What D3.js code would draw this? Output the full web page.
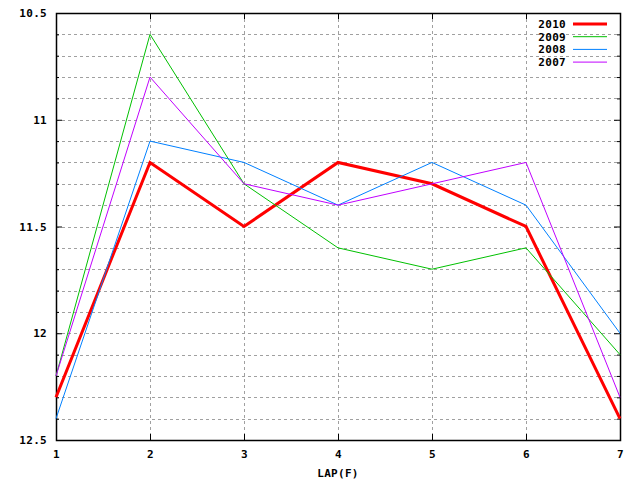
<!DOCTYPE html>
<html>
<head>
<meta charset="utf-8">
<script src="https://cdn.jsdelivr.net/npm/d3@7"></script>
<style>
  body { margin: 0; background: #fff; }
  svg text { font-family: "DejaVu Sans Mono", monospace; font-weight: bold; font-size: 11px; letter-spacing: 0.3px; fill: #000; }
</style>
</head>
<body>
<div id="chart"></div>
<script>
// Lap numbers along the x axis
const laps = [1, 2, 3, 4, 5, 6, 7];

// Lap times per year
const y2010 = [12.3, 11.2, 11.5, 11.2, 11.3, 11.5, 12.4];
const y2009 = [12.2, 10.6, 11.3, 11.6, 11.7, 11.6, 12.1];
const y2008 = [12.4, 11.1, 11.2, 11.4, 11.2, 11.4, 12.0];
const y2007 = [12.2, 10.8, 11.3, 11.4, 11.3, 11.2, 12.3];

const seriesNames = ['2010', '2009', '2008', '2007'];
const yMajorTicks = [10.5, 11, 11.5, 12, 12.5];
const yMinorTicks = [10.6, 10.7, 10.8, 10.9, 11.1, 11.2, 11.3, 11.4, 11.6, 11.7, 11.8, 11.9, 12.1, 12.2, 12.3, 12.4];

const series = [
  { name: seriesNames[0], values: y2010, color: '#ff0000', width: 3 },
  { name: seriesNames[1], values: y2009, color: '#00c000', width: 1 },
  { name: seriesNames[2], values: y2008, color: '#0080ff', width: 1 },
  { name: seriesNames[3], values: y2007, color: '#c000ff', width: 1 }
];

const W = 640, H = 480;
const margin = { top: 13, right: 20, bottom: 40, left: 56 };
const width = W - margin.left - margin.right;
const height = H - margin.top - margin.bottom;

const svg = d3.select('#chart').append('svg')
  .attr('width', W)
  .attr('height', H);

const g = svg.append('g')
  .attr('transform', `translate(${margin.left},${margin.top})`);

const x = d3.scaleLinear().domain([1, 7]).range([0, width]);
// y axis runs downward: 10.5 at the top
const y = d3.scaleLinear().domain([10.5, 12.5]).range([0, height]);

// Grid (dotted)
const gridY = yMajorTicks.concat(yMinorTicks).filter(v => v > 10.5 && v < 12.5);
g.selectAll('.gy').data(gridY).enter().append('line')
  .attr('x1', 0).attr('x2', width)
  .attr('y1', d => Math.round(y(d)) + 0.5).attr('y2', d => Math.round(y(d)) + 0.5)
  .attr('stroke', '#a0a0a0').attr('stroke-width', 1).attr('stroke-dasharray', '3,3');

g.selectAll('.gx').data(laps.slice(1, -1)).enter().append('line')
  .attr('x1', d => Math.round(x(d)) + 0.5).attr('x2', d => Math.round(x(d)) + 0.5)
  .attr('y1', 0).attr('y2', height)
  .attr('stroke', '#a0a0a0').attr('stroke-width', 1).attr('stroke-dasharray', '3,3');

// Left axis (major ticks labelled, minor ticks via second axis)
g.append('g')
  .call(d3.axisLeft(y).tickValues(yMajorTicks).tickSize(-6).tickPadding(9).tickFormat(d3.format('')))
  .call(a => a.select('.domain').remove());

g.append('g')
  .call(d3.axisLeft(y).tickValues(yMinorTicks).tickSize(-3).tickFormat(''))
  .call(a => a.select('.domain').remove());

// Right mirror ticks
g.append('g')
  .attr('transform', `translate(${width},0)`)
  .call(d3.axisRight(y).tickValues(yMajorTicks).tickSize(-6).tickFormat(''))
  .call(a => a.select('.domain').remove());
g.append('g')
  .attr('transform', `translate(${width},0)`)
  .call(d3.axisRight(y).tickValues(yMinorTicks).tickSize(-3).tickFormat(''))
  .call(a => a.select('.domain').remove());

// Bottom axis
g.append('g')
  .attr('transform', `translate(0,${height})`)
  .call(d3.axisBottom(x).tickValues(laps).tickSize(-6).tickPadding(10).tickFormat(d3.format('d')))
  .call(a => a.select('.domain').remove());

// Top mirror ticks
g.append('g')
  .call(d3.axisTop(x).tickValues(laps).tickSize(-6).tickFormat(''))
  .call(a => a.select('.domain').remove());

g.selectAll('.tick line').attr('stroke', '#000');
g.selectAll('.tick text').attr('fill', '#000').attr('font-size', null).attr('font-family', null);

// Plot border
g.append('rect')
  .attr('x', 0.5).attr('y', 0.5)
  .attr('width', width).attr('height', height)
  .attr('fill', 'none').attr('stroke', '#000').attr('stroke-width', 1.5);

// Lines
const line = d3.line()
  .x((d, i) => x(laps[i]))
  .y(d => y(d));

series.forEach(s => {
  g.append('path')
    .datum(s.values)
    .attr('fill', 'none')
    .attr('stroke', s.color)
    .attr('stroke-width', s.width)
    .attr('stroke-linejoin', 'miter')
    .attr('d', line);
});

// Legend (top right, inside plot)
const legend = svg.append('g');
series.forEach((s, i) => {
  const ly = 24 + i * 12.7;
  legend.append('text')
    .attr('x', 566)
    .attr('y', ly + 4)
    .attr('text-anchor', 'end')
    .text(s.name);
  legend.append('line')
    .attr('x1', 573).attr('x2', 607)
    .attr('y1', ly).attr('y2', ly)
    .attr('stroke', s.color)
    .attr('stroke-width', s.width);
});

// Axis title
svg.append('text')
  .attr('x', margin.left + width / 2)
  .attr('y', 477)
  .attr('text-anchor', 'middle')
  .text('LAP(F)');
</script>
</body>
</html>
